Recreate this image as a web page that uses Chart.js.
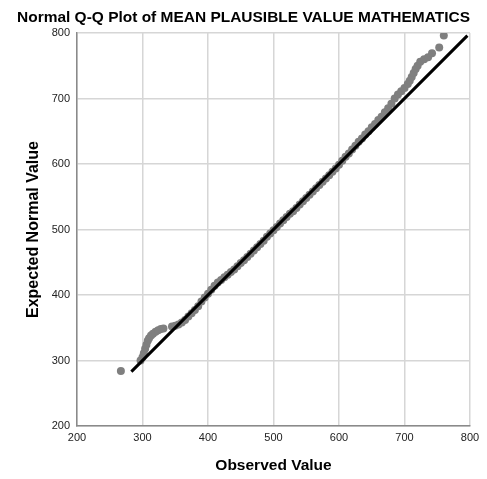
<!DOCTYPE html>
<html>
<head>
<meta charset="utf-8">
<script src="https://cdn.jsdelivr.net/npm/chart.js@4/dist/chart.umd.min.js"></script>
<style>
  html, body { margin: 0; padding: 0; background: #fff; }
  #wrap { width: 487px; height: 479px; }
</style>
</head>
<body>
<div id="wrap"><canvas id="qq"></canvas></div>
<script>
// observed vs expected normal values
const observed = [
  267, 297, 300, 302, 304, 306, 308, 310, 313, 316, 320, 324, 328, 332,
  345, 350, 355, 360, 365, 370, 375, 380, 385, 390, 395, 400, 405, 410,
  415, 420, 425, 430, 435, 440, 445, 450, 455, 460, 465, 470, 475, 480,
  485, 490, 495, 500, 505, 510, 515, 520, 525, 530, 535, 540, 545, 550,
  555, 560, 565, 570, 575, 580, 585, 590, 595, 600, 605, 610, 615, 620,
  625, 630, 635, 640, 645, 650, 655, 660, 665, 670, 675, 680, 685, 690,
  695, 700, 705, 708, 711, 714, 717, 720, 724, 730, 736, 742, 753, 760
];
const expected = [
  284, 300, 305, 311, 318, 324, 330, 334, 338, 341, 344, 346, 348, 349,
  352, 353, 355, 358, 362, 367, 372, 377, 383, 390, 396, 402, 408, 414,
  419, 423, 427, 431, 435, 439, 444, 449, 453, 458, 463, 468, 473, 478,
  483, 489, 494, 499, 504, 509, 514, 519, 524, 528, 533, 538, 543, 548,
  553, 558, 563, 568, 573, 578, 583, 588, 593, 599, 605, 611, 616, 622,
  628, 634, 639, 645, 650, 656, 661, 667, 672, 679, 685, 692, 700, 706,
  711, 716, 722, 727, 733, 739, 745, 750, 756, 760, 763, 769, 778, 796
];
// reference line end points
const refX = [283, 796];
const refY = [283, 796];

const axisTicks = [200, 300, 400, 500, 600, 700, 800];

const points = observed.map((x, i) => ({ x: x, y: expected[i] }));
const refLine = refX.map((x, i) => ({ x: x, y: refY[i] }));

const fam = "Liberation Sans, Arial, sans-serif";
const tickFont = { family: fam, size: 11 };
const titleFont = { family: fam, size: 15.5, weight: "bold" };

new Chart(document.getElementById("qq"), {
  type: "scatter",
  data: {
    datasets: [
      {
        type: "line",
        data: refLine,
        borderColor: "#000",
        borderWidth: 3,
        pointRadius: 0,
        fill: false,
        order: 0
      },
      {
        data: points,
        backgroundColor: "#7f7f7f",
        borderWidth: 0,
        pointRadius: 4,
        order: 1
      }
    ]
  },
  options: {
    responsive: true,
    maintainAspectRatio: false,
    animation: false,
    layout: { padding: { left: 17, right: 17, top: 0, bottom: 0 } },
    plugins: {
      legend: { display: false },
      tooltip: { enabled: false },
      title: {
        display: true,
        text: "Normal Q-Q Plot of MEAN PLAUSIBLE VALUE MATHEMATICS",
        color: "#000",
        font: titleFont,
        padding: { top: 8.7, bottom: 5.7 }
      }
    },
    scales: {
      x: {
        type: "linear",
        min: 200,
        max: 800,
        afterBuildTicks: s => { s.ticks = axisTicks.map(v => ({ value: v })); },
        afterFit: s => { s.height = 53; },
        ticks: { color: "#222", font: tickFont, padding: 5 },
        grid: { color: "#d6d6d6", lineWidth: 1.5, drawTicks: false },
        border: { color: "#8a8a8a", width: 1.5 },
        title: {
          display: true,
          text: "Observed Value",
          color: "#000",
          font: titleFont,
          padding: { top: 12, bottom: 3.5 }
        }
      },
      y: {
        type: "linear",
        min: 200,
        max: 800,
        afterBuildTicks: s => { s.ticks = axisTicks.map(v => ({ value: v })); },
        afterFit: s => { s.width = 60; },
        ticks: { color: "#222", font: tickFont, padding: 7 },
        grid: { color: "#d6d6d6", lineWidth: 1.5, drawTicks: false },
        border: { color: "#8a8a8a", width: 1.5 },
        title: {
          display: true,
          text: "Expected Normal Value",
          color: "#000",
          font: { family: fam, size: 16, weight: "bold" },
          padding: { top: 6.5, bottom: 0 }
        }
      }
    }
  }
});
</script>
</body>
</html>
